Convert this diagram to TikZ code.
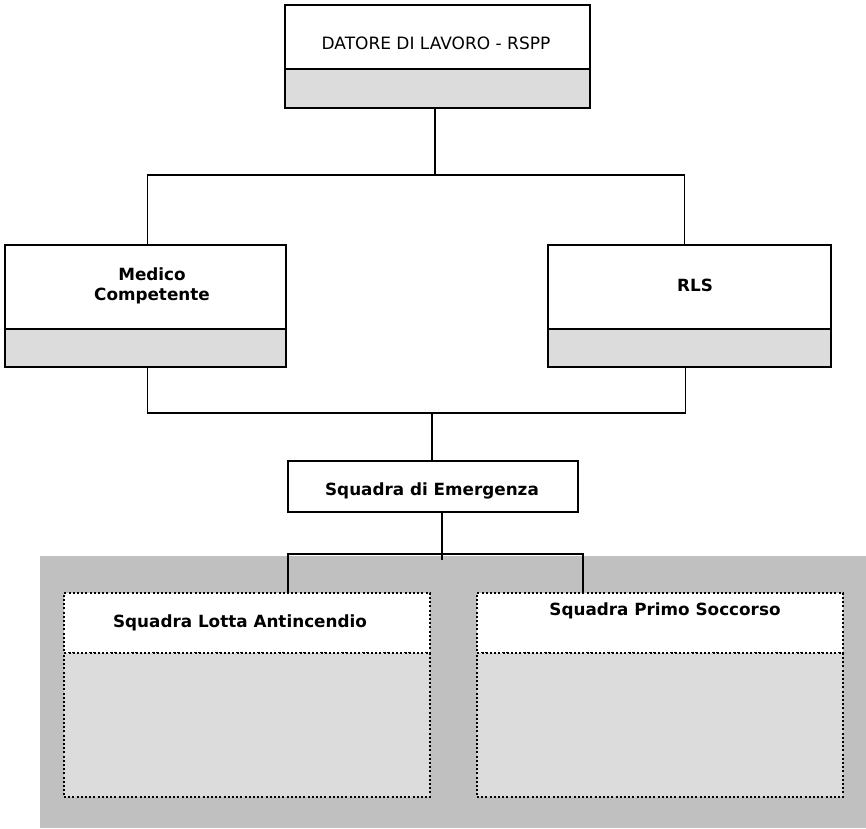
\documentclass[tikz,border=0pt]{standalone}
\usepackage{fontspec}
\setmainfont{DejaVu Sans}
\definecolor{boxgray}{RGB}{220,220,220}
\definecolor{bggray}{RGB}{192,192,192}
\begin{document}
\begin{tikzpicture}[x=1pt,y=-1pt,
  solidbox/.style={draw=black, line width=2pt, fill=white, inner sep=0pt, anchor=north west},
  graypart/.style={solidbox, fill=boxgray},
  dotbox/.style={draw=black, line width=2pt, dash pattern=on 2pt off 2.2pt, fill=white, inner sep=0pt, anchor=north west},
  dotgray/.style={dotbox, fill=boxgray},
  conn/.style={draw=black, line width=1.6pt},
  lbl/.style={inner sep=0pt, font=\fontsize{16.8}{20}\selectfont\bfseries, align=center},
  lblreg/.style={inner sep=0pt, font=\fontsize{17}{20}\selectfont}
]
\useasboundingbox (0,0) rectangle (866,828);
% background panel
\fill[bggray] (40,556) rectangle (866,828);

% coordinates for junctions
\coordinate (j1) at (435,175);
\coordinate (j2) at (432,413);
\coordinate (l1) at (288,554);
\coordinate (l2) at (583,554);

% boxes
\node[solidbox, minimum width=305pt, minimum height=64pt] (datT) at (284,4) {};
\node[graypart, minimum width=305pt, minimum height=39pt] (datB) at (284,68) {};

\node[solidbox, minimum width=281pt, minimum height=84pt] (medT) at (4,244) {};
\node[graypart, minimum width=281pt, minimum height=38pt] (medB) at (4,328) {};

\node[solidbox, minimum width=283pt, minimum height=84pt] (rlsT) at (547,244) {};
\node[graypart, minimum width=283pt, minimum height=38pt] (rlsB) at (547,328) {};

\node[solidbox, minimum width=290pt, minimum height=51pt] (sqE) at (287,460) {};

\node[dotbox, minimum width=366pt, minimum height=60pt] (lotT) at (63,592) {};
\node[dotgray, minimum width=366pt, minimum height=144pt] (lotB) at (63,652) {};

\node[dotbox, minimum width=366pt, minimum height=60pt] (priT) at (476,592) {};
\node[dotgray, minimum width=366pt, minimum height=144pt] (priB) at (476,652) {};

% connectors
\draw[conn] (datB.south -| j1) -- (j1);
\draw[conn] ([xshift=2pt]medT.north) |- (j1) -| ([xshift=-5pt]rlsT.north);
\draw[conn] ([xshift=2pt]medB.south) |- (j2) -| ([xshift=-4pt]rlsB.south);
\draw[conn] (j2) -- (j2 |- sqE.north);
\draw[conn] ([xshift=9pt]sqE.south) -- ++(0,47);
\draw[conn] (l1 |- lotT.north) -- (l1) -- (l2) -- (l2 |- priT.north);

% labels
\node[lblreg] (datL) at (436,43) {DATORE DI LAVORO - RSPP};
\node[lbl] (medL) at (152,286) {Medico\\Competente};
\node[lbl] (rlsL) at (695,285) {RLS};
\node[lbl] (sqEL) at (432,491) {Squadra di Emergenza};
\node[lbl] (lotL) at (240,623) {Squadra Lotta Antincendio};
\node[lbl] (priL) at (665,611) {Squadra Primo Soccorso};
\end{tikzpicture}
\end{document}
